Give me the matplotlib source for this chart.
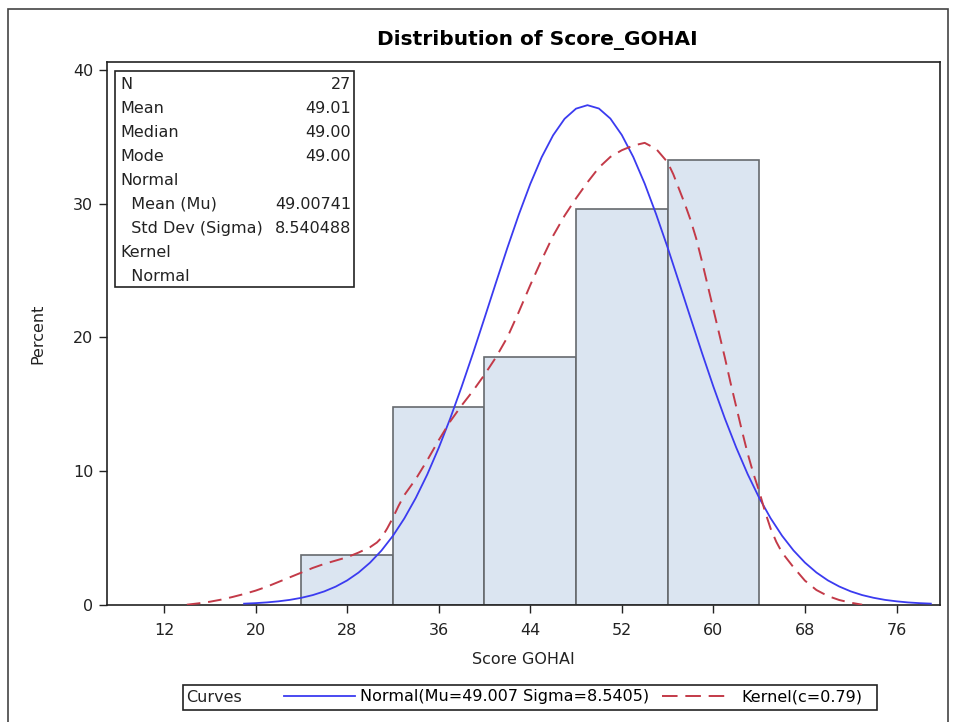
import matplotlib
matplotlib.use("Agg")
import matplotlib.pyplot as plt
from matplotlib.patches import Rectangle
from matplotlib.lines import Line2D

# histogram bins (left edges) and percent per bin
bin_left = [24, 32, 40, 48, 56]
bin_width = 8
percent = [3.7, 14.8, 18.5, 29.6, 33.3]

# fitted normal curve
normal_x = list(range(19, 80))
normal_y = [0.078, 0.117, 0.173, 0.252, 0.362, 0.514, 0.719, 0.993, 1.351, 1.814,
            2.403, 3.141, 4.047, 5.147, 6.455, 7.983, 9.735, 11.72, 13.91, 16.29,
            18.81, 21.43, 24.08, 26.69, 29.18, 31.47, 33.48, 35.12, 36.35, 37.11,
            37.37, 37.12, 36.37, 35.14, 33.50, 31.50, 29.21, 26.73, 24.11, 21.47,
            18.85, 16.32, 13.94, 11.75, 9.76, 8.00, 6.47, 5.16, 4.06, 3.15,
            2.41, 1.82, 1.36, 0.997, 0.72, 0.516, 0.36, 0.253, 0.17, 0.117, 0.08]

# kernel density curve
kernel_x = [14, 15, 16, 17, 18, 19, 20, 21, 22, 23, 24, 25, 26, 27, 28, 29, 30,
            30.6, 31, 31.5, 32, 32.5, 33, 34, 35, 36, 37, 38, 39, 40, 41, 42, 43,
            44, 45, 46, 47, 48, 49, 50, 51, 52, 53, 54, 55, 56, 56.5, 57, 57.5,
            58, 58.5, 59, 59.5, 60, 60.5, 61, 61.5, 62, 62.5, 63, 63.5, 64, 64.5,
            65, 65.5, 66, 67, 68, 69, 70, 71, 72, 73]
kernel_y = [0.0, 0.1, 0.22, 0.38, 0.58, 0.8, 1.05, 1.35, 1.7, 2.05, 2.4, 2.75,
            3.05, 3.3, 3.55, 3.9, 4.3, 4.65, 5.0, 5.7, 6.5, 7.4, 8.2, 9.4, 10.8,
            12.3, 13.7, 14.9, 16.0, 17.2, 18.5, 20.0, 21.9, 23.9, 25.8, 27.6,
            29.1, 30.4, 31.6, 32.7, 33.5, 34.0, 34.35, 34.55, 34.1, 33.1, 32.2,
            31.1, 30.0, 28.8, 27.4, 25.7, 23.9, 22.1, 20.3, 18.5, 16.6, 14.8,
            13.0, 11.3, 9.8, 8.5, 7.0, 5.7, 4.7, 3.9, 2.8, 1.8, 1.1, 0.65, 0.35,
            0.15, 0.0]

stat_labels = ["N", "Mean", "Median", "Mode", "Normal", "  Mean (Mu)",
               "  Std Dev (Sigma)", "Kernel", "  Normal"]
stat_values = ["27", "49.01", "49.00", "49.00", "", "49.00741", "8.540488", "", ""]

x_ticks = [12, 20, 28, 36, 44, 52, 60, 68, 76]
y_ticks = [0, 10, 20, 30, 40]

blue = "#3b3bf0"
red = "#c33a48"
dark = "#222222"

plt.rcParams["font.family"] = ["DejaVu Sans"]
fs = 11.5
W, H = 958, 722

fig = plt.figure(figsize=(W / 100, H / 100), dpi=100)
ax_l, ax_r, ax_t, ax_b = 107.3, 940, 62, 604.7
ax = fig.add_axes([ax_l / W, 1 - ax_b / H, (ax_r - ax_l) / W, (ax_b - ax_t) / H])

ax.bar(bin_left, percent, width=bin_width, align="edge", color="#dbe5f1",
       edgecolor="#666a6e", linewidth=1.2, zorder=1)
ax.plot(normal_x, normal_y, color=blue, linewidth=1.3, zorder=3)
ax.plot(kernel_x, kernel_y, color=red, linewidth=1.4, dashes=(7, 4), zorder=3)

ax.set_xlim(7.05, 79.8)
ax.set_ylim(0, 40.6)
ax.set_xticks(x_ticks)
ax.set_yticks(y_ticks)
ax.tick_params(axis="both", direction="out", length=6, width=1,
               labelsize=fs, colors=dark)
ax.tick_params(axis="x", pad=7)
ax.tick_params(axis="y", pad=4)
for s in ax.spines.values():
    s.set_color(dark)
    s.set_linewidth(1.2)

ax.set_xlabel("Score GOHAI", fontsize=fs, color=dark, labelpad=10)
ax.set_ylabel("Percent", fontsize=fs, color=dark, labelpad=20)

fig.text(537 / W, 1 - 40 / H, "Distribution of Score_GOHAI", ha="center",
         va="center", fontsize=14.5, fontweight="bold")

# inset statistics table
ax.add_patch(Rectangle((0.00925, 0.5854), 0.2868, 0.398, transform=ax.transAxes,
                       fill=False, edgecolor=dark, linewidth=1.2, zorder=5))
row0, step = 0.9589, 0.04422
for i, (lab, val) in enumerate(zip(stat_labels, stat_values)):
    y = row0 - i * step
    ax.text(0.0161, y, lab, transform=ax.transAxes, ha="left", va="center",
            fontsize=fs, color=dark, zorder=6)
    if val:
        ax.text(0.2927, y, val, transform=ax.transAxes, ha="right", va="center",
                fontsize=fs, color=dark, zorder=6)

# bottom legend
lpx = fs * 100 / 72
ly = 1 - 697 / H
fig.patches.append(Rectangle((183 / W, 1 - 710 / H), (877 - 183) / W, 25 / H,
                             transform=fig.transFigure, fill=False,
                             edgecolor=dark, linewidth=1.2))
fig.text(186 / W, ly, "Curves", ha="left", va="center", fontsize=fs, color=dark)
leg1 = fig.legend([Line2D([], [], color=blue, linewidth=1.3)],
                  ["Normal(Mu=49.007 Sigma=8.5405)"], loc="center left",
                  bbox_to_anchor=(284 / W, ly), frameon=False, fontsize=fs,
                  handlelength=71 / lpx, handletextpad=5 / lpx,
                  borderpad=0, borderaxespad=0)
fig.legend([Line2D([], [], color=red, linewidth=1.4, dashes=(8, 4))],
           ["Kernel(c=0.79)"], loc="center left",
           bbox_to_anchor=(662 / W, ly), frameon=False, fontsize=fs,
           handlelength=66 / lpx, handletextpad=13 / lpx,
           borderpad=0, borderaxespad=0)

# outer frame
fig.patches.append(Rectangle((8 / W, -0.01), (948 - 8) / W, 1.01 - 9 / H,
                             transform=fig.transFigure, fill=False,
                             edgecolor="#444444", linewidth=1.2))

fig.savefig("out.png", dpi=100)
